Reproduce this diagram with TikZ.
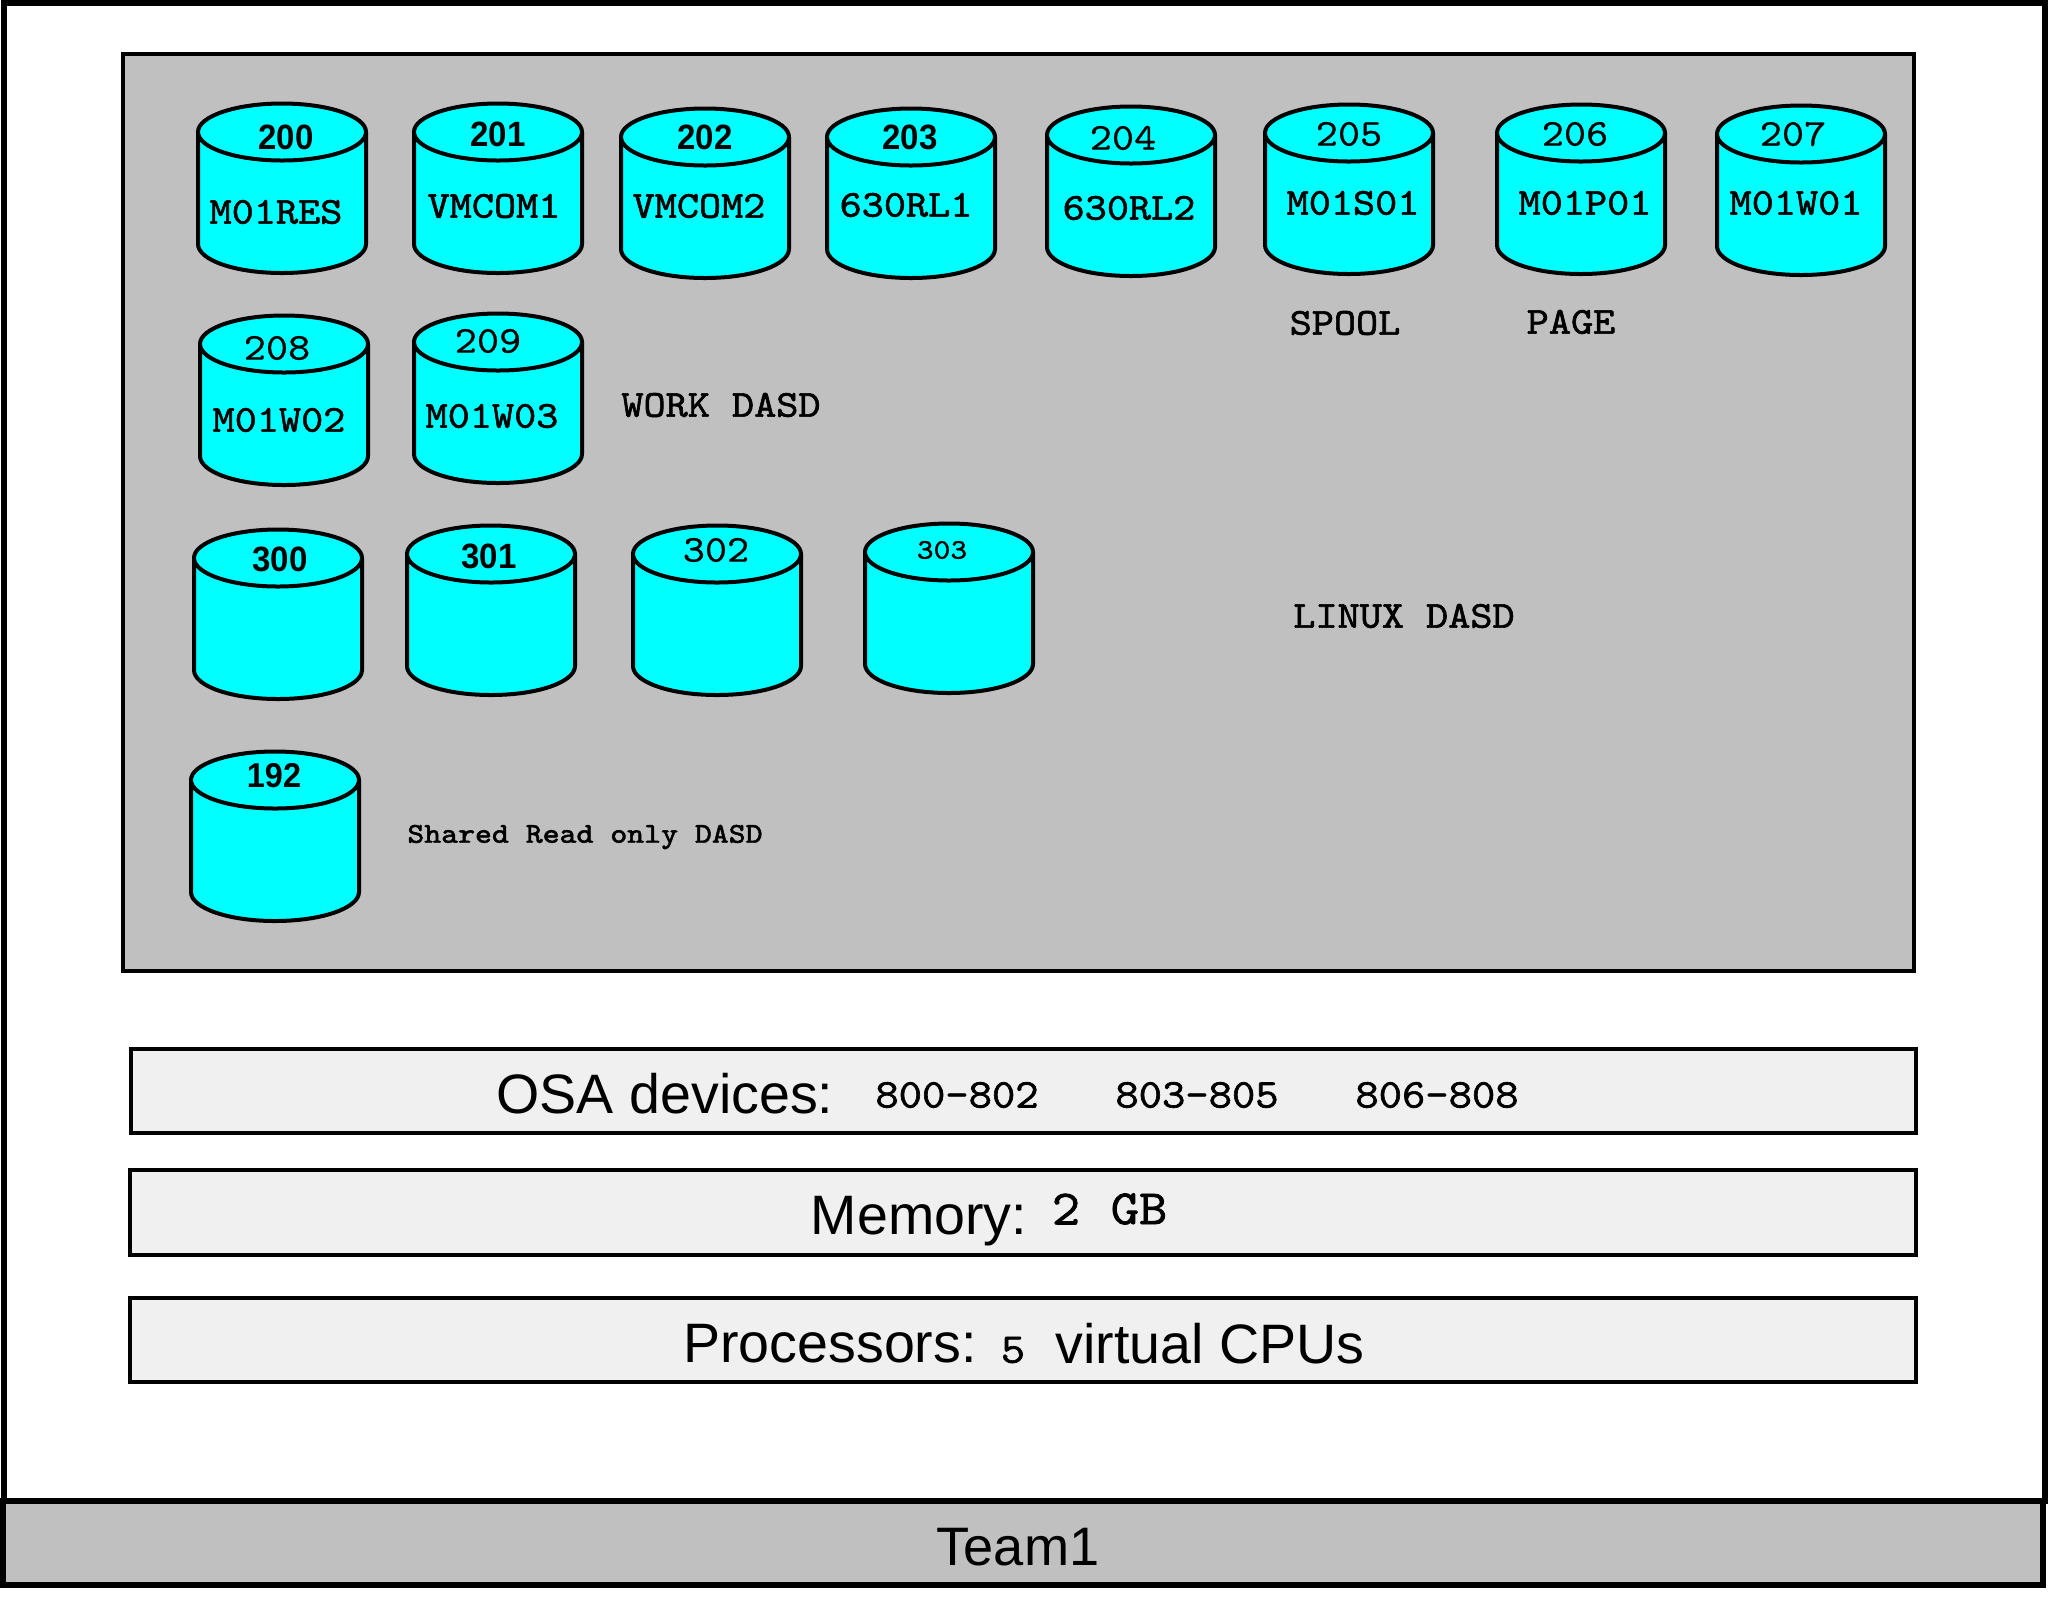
\documentclass[tikz,border=0pt]{standalone}
\usepackage{fontspec}
\setmainfont{Liberation Sans}
\newfontfamily\dasdbold[FakeStretch=1.11,FakeBold=1.6]{Latin Modern Mono}
\newfontfamily\dasdplain[FakeStretch=1.11,FakeBold=0.6]{Latin Modern Mono}
\newfontfamily\numsans[FakeStretch=0.94]{Liberation Sans Bold}
\usepackage{tikz}
\definecolor{DiskCyan}{HTML}{00FFFF}
\definecolor{PanelGray}{HTML}{C0C0C0}
\definecolor{BarPale}{HTML}{F0F0F0}
\tikzset{
  panel/.style={draw=black,line width=0.04cm},
  heavy/.style={draw=black,line width=0.06cm},
  barlabel/.style={inner sep=0pt,font=\fontsize{15.8}{18}\selectfont},
  monolabel/.style={inner sep=0pt,font=\fontsize{10.8}{13}\dasdbold},
}
\begin{document}
\begin{tikzpicture}[x=0.01cm,y=-0.01cm]
  \useasboundingbox (0,0) rectangle (2060,1608);
  \def\disk#1#2{
    \filldraw[fill=DiskCyan,panel] (#1+1,#2+29) -- (#1+1,#2+141)
      .. controls (#1+1,#2+157) and (#1+38,#2+170) .. (#1+85,#2+170)
      .. controls (#1+132,#2+170) and (#1+169,#2+157) .. (#1+169,#2+141)
      -- (#1+169,#2+29);
    \filldraw[fill=DiskCyan,panel] (#1+85,#2+29) ellipse [x radius=84,y radius=28.5];
  }
  \def\disknum#1#2#3#4{
    \node[inner sep=0pt,font=#2] (n#1) at (#3,#4) {#1};
  }
  \def\disklabel#1#2#3#4{
    \node[monolabel] (l#1) at (#3,#4) {#2};
  }
  \def\numbold{\fontsize{10}{12}\numsans}
  \def\numplain{\fontsize{10.8}{13}\dasdplain}
  % frame
  \draw[heavy] (4,3) rectangle (2045,1501);
  \filldraw[fill=PanelGray,heavy] (3,1501) rectangle (2043,1585);
  \node[barlabel,font=\fontsize{15.4}{18}\selectfont] (team) at (1018,1547) {Team1};
  % dasd panel
  \filldraw[fill=PanelGray,panel] (123,54) rectangle (1914,971);
  \disk{197}{103} \disknum{200}{\numbold}{286}{137}
  \disklabel{200}{M01RES}{276}{212}
  \disk{413}{103} \disknum{201}{\numbold}{498}{134}
  \disklabel{201}{VMCOM1}{494}{206}
  \disk{620}{108} \disknum{202}{\numbold}{705}{137}
  \disklabel{202}{VMCOM2}{699}{206}
  \disk{826}{108} \disknum{203}{\numbold}{910}{137}
  \disklabel{203}{630RL1}{906}{205}
  \disk{1046}{106} \disknum{204}{\numplain}{1123}{138}
  \disklabel{204}{630RL2}{1129}{208}
  \disk{1264}{104} \disknum{205}{\numplain}{1349}{134}
  \disklabel{205}{M01S01}{1353}{203}
  \disk{1496}{104} \disknum{206}{\numplain}{1575}{134}
  \disklabel{206}{M01P01}{1585}{203}
  \disk{1716}{105} \disknum{207}{\numplain}{1793}{134}
  \disklabel{207}{M01W01}{1796}{203}
  \disk{199}{315} \disknum{208}{\numplain}{277}{348}
  \disklabel{208}{M01W02}{279}{420}
  \disk{413}{313} \disknum{209}{\numplain}{488}{341}
  \disklabel{209}{M01W03}{492}{416}
  \disk{193}{529} \disknum{300}{\numbold}{280}{559}
  \disk{406}{525} \disknum{301}{\numbold}{489}{556}
  \disk{632}{525} \disknum{302}{\numplain}{716}{550}
  \disk{864}{523} \disknum{303}{\fontsize{8.1}{10}\dasdplain}{942}{550}
  \disk{190}{751} \disknum{192}{\fontsize{9.8}{12}\numsans}{274}{776}
  \node[monolabel] (spool) at (1345,323) {SPOOL};
  \node[monolabel] (pagelabel) at (1571,322) {PAGE};
  \node[monolabel] (workdasd) at (721,405) {WORK DASD};
  \node[monolabel] (linuxdasd) at (1404,616) {LINUX DASD};
  \node[monolabel,font=\fontsize{8.16}{10}\dasdbold] (shared) at (585,837) {Shared Read only DASD};
  % bars
  \filldraw[fill=BarPale,panel] (131,1049) rectangle (1916,1133);
  \filldraw[fill=BarPale,panel] (130,1170) rectangle (1916,1255);
  \filldraw[fill=BarPale,panel] (130,1298) rectangle (1916,1382);
  \node[barlabel] (osa) at (665,1094) {OSA devices:};
  \node[monolabel,font=\fontsize{11.6}{14}\dasdbold] (osa1) at (957,1095) {800-802};
  \node[monolabel,font=\fontsize{11.6}{14}\dasdbold] (osa2) at (1197,1095) {803-805};
  \node[monolabel,font=\fontsize{11.6}{14}\dasdbold] (osa3) at (1437,1095) {806-808};
  \node[barlabel] (mem) at (919,1221) {Memory:};
  \node[monolabel,font=\fontsize{14}{16}\dasdbold] (memsize) at (1066,1209) {2};
  \node[monolabel,font=\fontsize{14}{16}\dasdbold] (memunit) at (1139,1209) {GB};
  \node[barlabel] (cpu) at (830,1344) {Processors:};
  \node[monolabel,font=\fontsize{12}{14}\dasdbold] (cpunum) at (1013,1350) {5};
  \node[barlabel] (cpuunit) at (1210,1344) {virtual CPUs};
\end{tikzpicture}
\end{document}
